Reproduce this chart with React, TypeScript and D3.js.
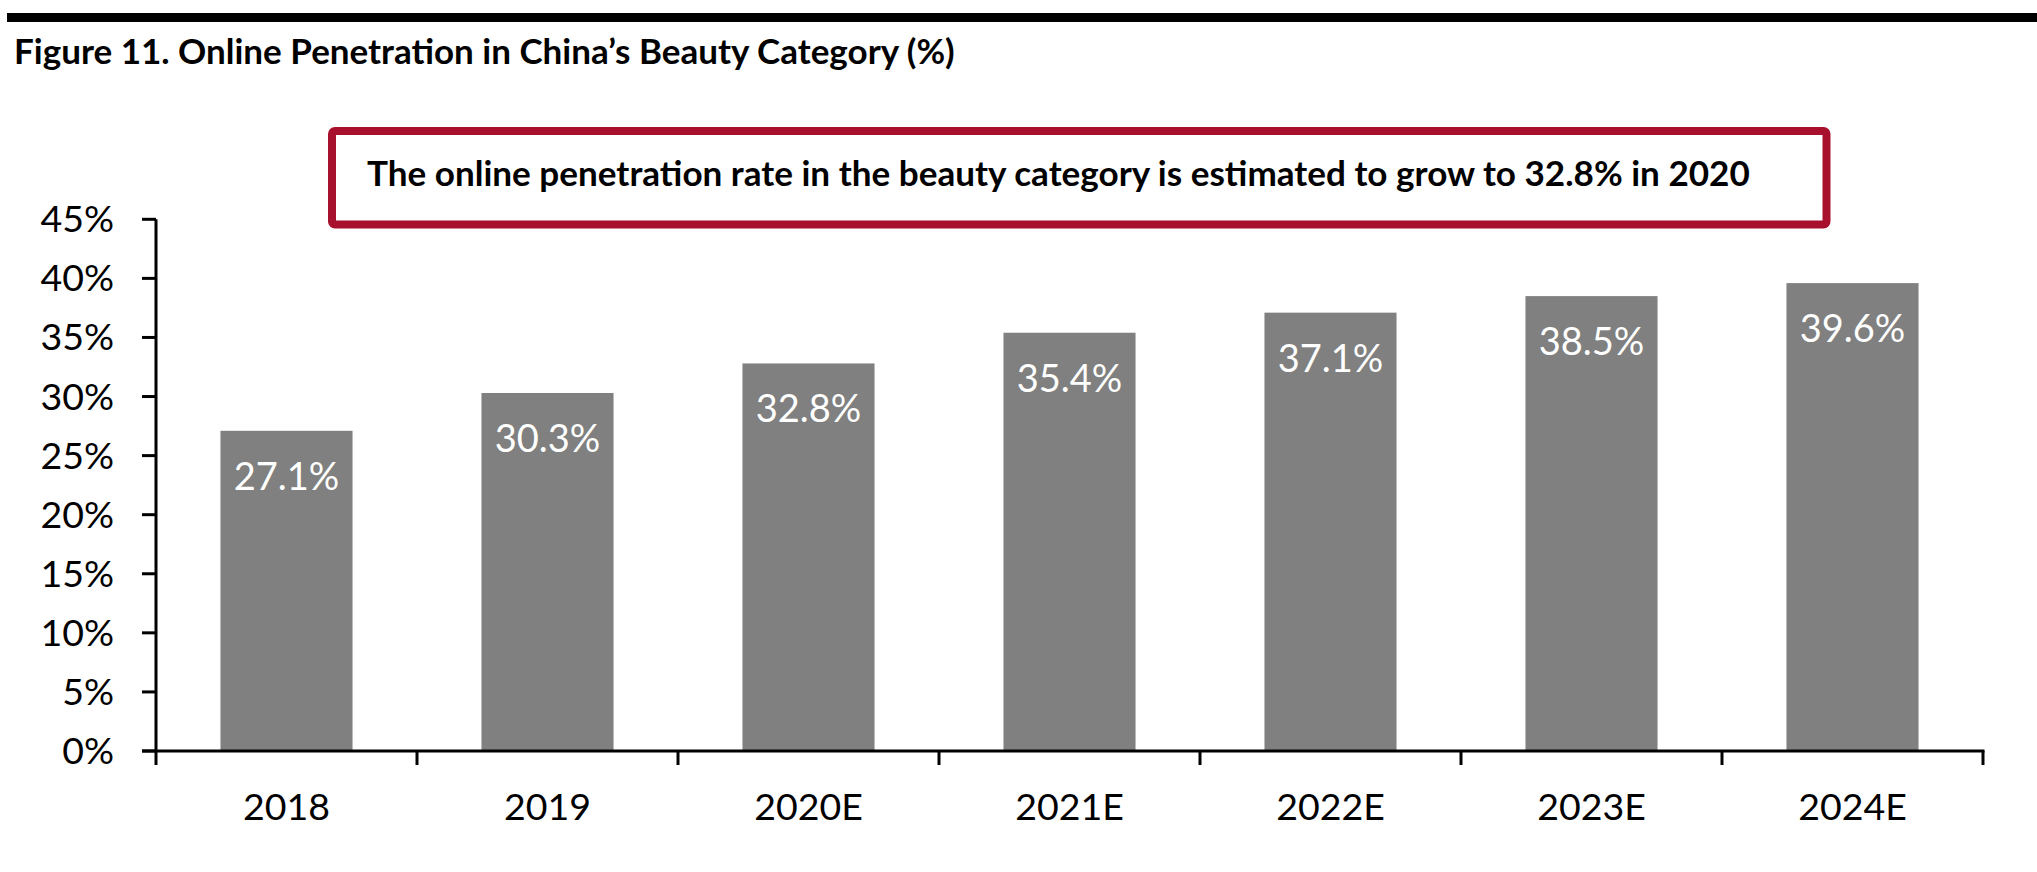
import React from "react";
import * as d3 from "d3";

const categories = ["2018", "2019", "2020E", "2021E", "2022E", "2023E", "2024E"];
const values = [27.1, 30.3, 32.8, 35.4, 37.1, 38.5, 39.6];
const yTicks = [0, 5, 10, 15, 20, 25, 30, 35, 40, 45];
const title = "Figure 11. Online Penetration in China\u2019s Beauty Category (%)";
const note = "The online penetration rate in the beauty category is estimated to grow to 32.8% in 2020";

const W = 2037;
const H = 872;
const FONT = "Lato, 'Open Sans', sans-serif";

export default function App() {
  const x = d3
    .scaleBand<string>()
    .domain(categories)
    .range([156, 1983])
    .paddingInner(0.494)
    .paddingOuter(0.247);
  const y = d3.scaleLinear().domain([0, 45]).range([751, 219.3]);
  const step = x.step();
  const catEdges = d3.range(categories.length + 1).map((i) => 156 + i * step);

  return (
    <svg
      width={W}
      height={H}
      style={{ position: "absolute", left: 0, top: 0, background: "#fff" }}
      fontFamily={FONT}
    >
      <rect x={0} y={0} width={W} height={H} fill="#fff" />
      {/* top rule */}
      <rect x={7} y={13} width={W - 7} height={9} fill="#000" />
      <text x={14} y={64} fontSize={35} fontWeight={700} fill="#000">
        {title}
      </text>

      {/* annotation box */}
      <rect
        x={332}
        y={131}
        width={1494.5}
        height={93.5}
        rx={3}
        fill="#fff"
        stroke="#A8112E"
        strokeWidth={8}
      />
      <text x={367} y={186} fontSize={35.1} fontWeight={700} fill="#000">
        {note}
      </text>

      {/* bars */}
      {categories.map((c, i) => (
        <rect
          key={c}
          x={x(c)}
          y={y(values[i])}
          width={x.bandwidth()}
          height={y(0) - y(values[i])}
          fill="#808080"
        />
      ))}
      {categories.map((c, i) => (
        <text
          key={"l" + c}
          x={(x(c) as number) + x.bandwidth() / 2}
          y={y(values[i]) + 59}
          fontSize={38}
          fill="#fff"
          textAnchor="middle"
        >
          {values[i].toFixed(1) + "%"}
        </text>
      ))}

      {/* y axis */}
      <line x1={156} x2={156} y1={y(45)} y2={y(0)} stroke="#000" strokeWidth={3} />
      {yTicks.map((t) => (
        <g key={"y" + t}>
          <line x1={142} x2={156} y1={y(t)} y2={y(t)} stroke="#000" strokeWidth={3} />
          <text x={114} y={y(t) + 13} fontSize={37.5} textAnchor="end" fill="#000">
            {t + "%"}
          </text>
        </g>
      ))}

      {/* x axis */}
      <line x1={142} x2={1984.5} y1={y(0)} y2={y(0)} stroke="#000" strokeWidth={3} />
      {catEdges.map((e, i) => (
        <line key={"xt" + i} x1={e} x2={e} y1={y(0)} y2={y(0) + 14} stroke="#000" strokeWidth={3} />
      ))}
      {categories.map((c) => (
        <text
          key={"x" + c}
          x={(x(c) as number) + x.bandwidth() / 2}
          y={820}
          fontSize={37.5}
          textAnchor="middle"
          fill="#000"
        >
          {c}
        </text>
      ))}
    </svg>
  );
}
